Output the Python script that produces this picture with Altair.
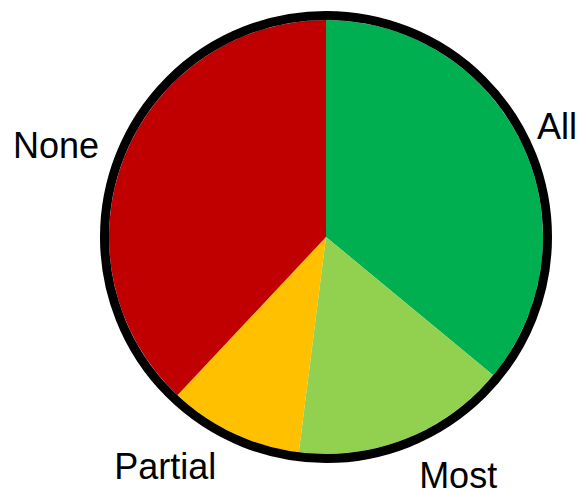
import math
import altair as alt
import pandas as pd

categories = ["All", "Most", "Partial", "None"]
values = [36, 16, 10, 38]
colors = ["#00B050", "#92D050", "#FFC000", "#C00000"]

df = pd.DataFrame({"category": categories, "value": values, "order": list(range(len(categories)))})

color_scale = alt.Scale(domain=categories, range=colors)
theta = alt.Theta("value:Q", stack=True)
order = alt.Order("order:Q")

pie = alt.Chart(df).mark_arc(radius=217, strokeWidth=0).encode(
    theta=theta,
    color=alt.Color("category:N", scale=color_scale, legend=None),
    order=order,
)

outline = alt.Chart(pd.DataFrame({"k": [0]})).mark_arc(
    radius=221.5, fillOpacity=0, stroke="#000000", strokeWidth=9
).encode(theta=alt.value(0), theta2=alt.value(2 * math.pi))

offsets = {"All": (-15, 7), "Most": (32, -13), "Partial": (-45, -15), "None": (-17, 10)}

labels = []
for cat in categories:
    dx, dy = offsets[cat]
    labels.append(
        alt.Chart(df).mark_text(
            radius=272, font="Liberation Sans", fontSize=36, color="#000000",
            align="center", baseline="middle", dx=dx, dy=dy,
        ).encode(
            theta=theta,
            order=order,
            text=alt.condition(alt.datum.category == cat, "category:N", alt.value("")),
        )
    )

chart = alt.layer(pie, outline, *labels).properties(
    width=500, height=458,
    autosize=alt.AutoSizeParams(type="none"),
    padding={"left": 68, "top": 0, "right": 2, "bottom": 22},
).configure_view(stroke=None).configure(background="#ffffff")

chart.save("out.html", embed_options={"renderer": "svg", "actions": False})
